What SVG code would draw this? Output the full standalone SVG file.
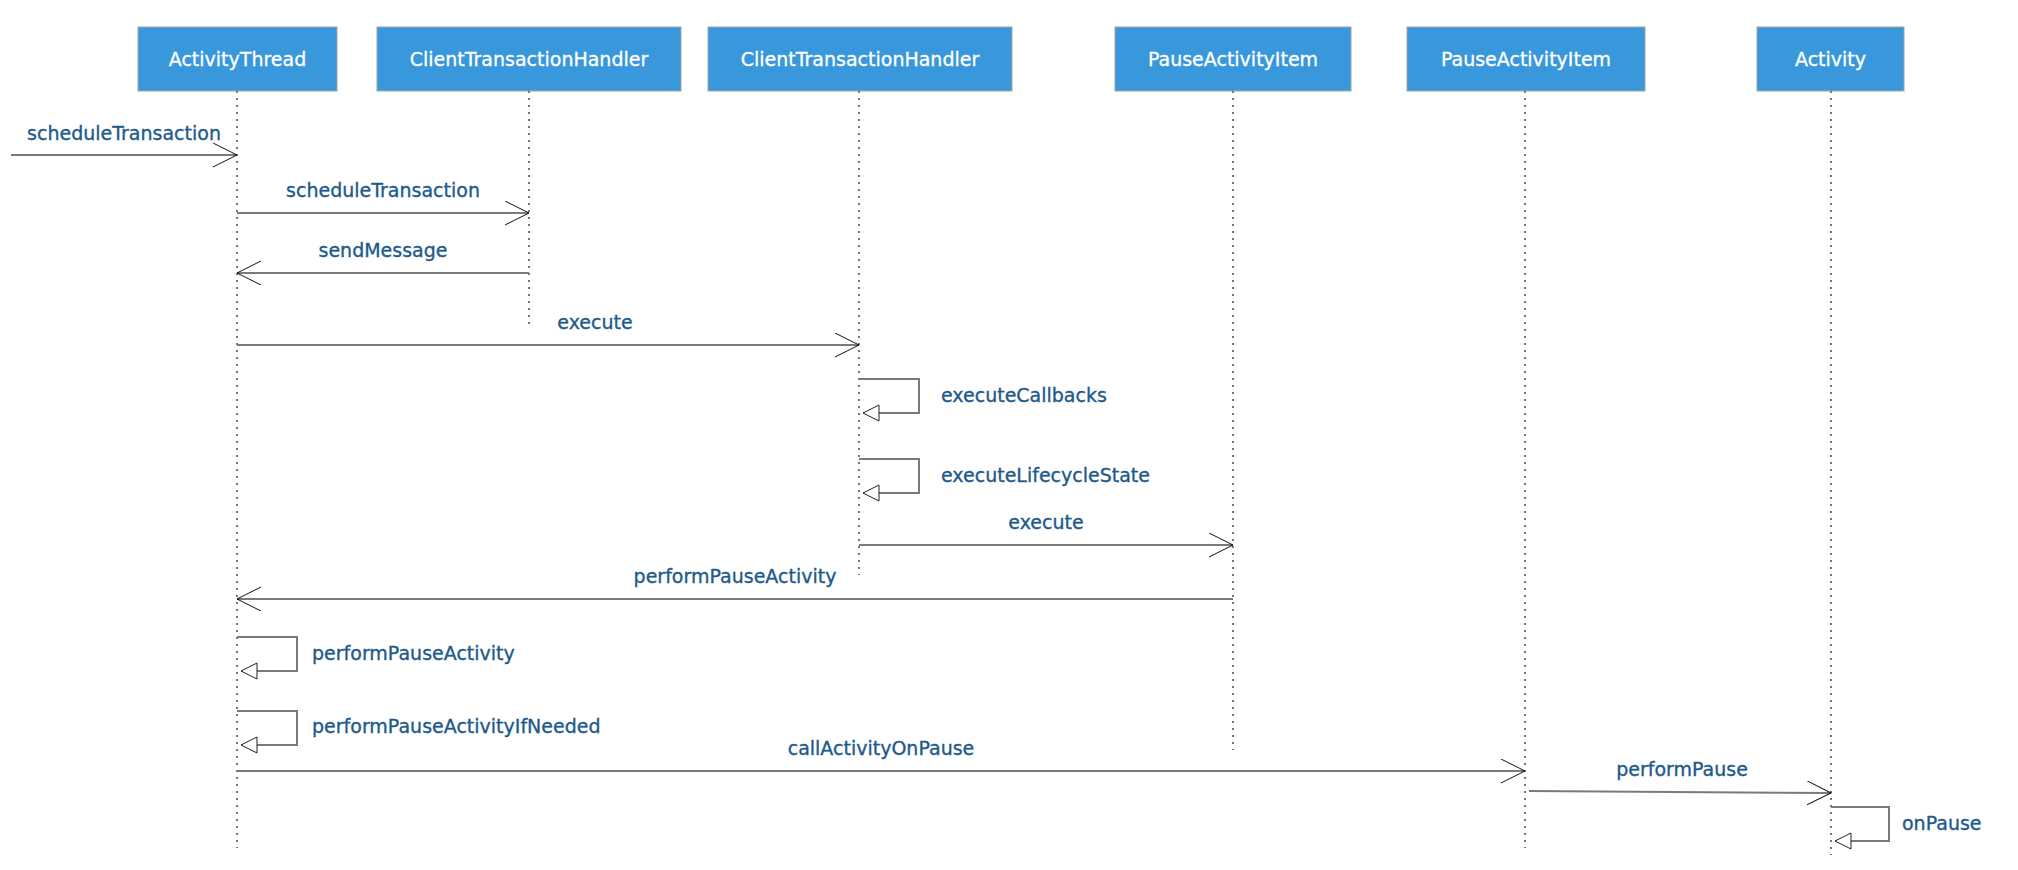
<svg xmlns="http://www.w3.org/2000/svg" width="2018" height="870" viewBox="0 0 2018 870">
<style>
.box{fill:#3898db;stroke:#a3a3a3;stroke-width:1}
.bt{font-family:"DejaVu Sans",sans-serif;font-size:19px;fill:#ffffff;text-anchor:middle;stroke:#ffffff;stroke-width:0.3}
.life{stroke:#777777;stroke-width:2;stroke-dasharray:2 5;fill:none}
.msg{stroke:#7a7a7a;stroke-width:2;fill:none}
.lbl{font-family:"DejaVu Sans",sans-serif;font-size:19px;fill:#1e5a8a;stroke:#1e5a8a;stroke-width:0.35}
.c{text-anchor:middle}
</style>
<defs>
<marker id="open" viewBox="0 0 26 26" refX="24" refY="12" markerWidth="26" markerHeight="26" markerUnits="userSpaceOnUse" orient="auto">
<path d="M0,0 L24,12 L0,24" fill="none" stroke="#111111" stroke-width="1"/>
</marker>
<marker id="tri" viewBox="-1 -1 18 18" refX="16" refY="8" markerWidth="18" markerHeight="18" markerUnits="userSpaceOnUse" orient="auto">
<path d="M0,0 L16,8 L0,16 Z" fill="#ffffff" stroke="#222222" stroke-width="1"/>
</marker>
</defs>
<rect width="2018" height="870" fill="#ffffff"/>

<g id="node-activitythread">
<rect class="box" x="138" y="27" width="199" height="64"/>
<text class="bt" x="237.5" y="66">ActivityThread</text>
<line class="life" x1="237" y1="91" x2="237" y2="848"/>
</g>
<g id="node-clienttransactionhandler-1">
<rect class="box" x="377" y="27" width="304" height="64"/>
<text class="bt" x="529" y="66">ClientTransactionHandler</text>
<line class="life" x1="529" y1="91" x2="529" y2="324"/>
</g>
<g id="node-clienttransactionhandler-2">
<rect class="box" x="708" y="27" width="304" height="64"/>
<text class="bt" x="860" y="66">ClientTransactionHandler</text>
<line class="life" x1="859" y1="91" x2="859" y2="575"/>
</g>
<g id="node-pauseactivityitem-1">
<rect class="box" x="1115" y="27" width="236" height="64"/>
<text class="bt" x="1233" y="66">PauseActivityItem</text>
<line class="life" x1="1233" y1="91" x2="1233" y2="750"/>
</g>
<g id="node-pauseactivityitem-2">
<rect class="box" x="1407" y="27" width="238" height="64"/>
<text class="bt" x="1526" y="66">PauseActivityItem</text>
<line class="life" x1="1525" y1="91" x2="1525" y2="848"/>
</g>
<g id="node-activity">
<rect class="box" x="1757" y="27" width="147" height="64"/>
<text class="bt" x="1830.5" y="66">Activity</text>
<line class="life" x1="1831" y1="91" x2="1831" y2="855"/>
</g>

<g id="connectors">
<line class="msg" x1="11" y1="155" x2="237" y2="155" marker-end="url(#open)"/>
<text class="lbl c" x="124" y="140">scheduleTransaction</text>

<line class="msg" x1="237" y1="213" x2="529" y2="213" marker-end="url(#open)"/>
<text class="lbl c" x="383" y="197">scheduleTransaction</text>

<line class="msg" x1="529" y1="273" x2="237" y2="273" marker-end="url(#open)"/>
<text class="lbl c" x="383" y="257">sendMessage</text>

<line class="msg" x1="237" y1="345" x2="859" y2="345" marker-end="url(#open)"/>
<text class="lbl c" x="595" y="329">execute</text>

<path class="msg" d="M859,379 H919 V413 H863" marker-end="url(#tri)"/>
<text class="lbl" x="941" y="402">executeCallbacks</text>

<path class="msg" d="M859,459 H919 V493 H863" marker-end="url(#tri)"/>
<text class="lbl" x="941" y="482">executeLifecycleState</text>

<line class="msg" x1="859" y1="545" x2="1233" y2="545" marker-end="url(#open)"/>
<text class="lbl c" x="1046" y="529">execute</text>

<line class="msg" x1="1233" y1="599" x2="237" y2="599" marker-end="url(#open)"/>
<text class="lbl c" x="735" y="583">performPauseActivity</text>

<path class="msg" d="M237,637 H297 V671 H241" marker-end="url(#tri)"/>
<text class="lbl" x="312" y="660">performPauseActivity</text>

<path class="msg" d="M237,711 H297 V745 H241" marker-end="url(#tri)"/>
<text class="lbl" x="312" y="733">performPauseActivityIfNeeded</text>

<line class="msg" x1="237" y1="771" x2="1525" y2="771" marker-end="url(#open)"/>
<text class="lbl c" x="881" y="755">callActivityOnPause</text>

<line class="msg" x1="1529" y1="791" x2="1831" y2="793" marker-end="url(#open)"/>
<text class="lbl c" x="1682" y="776">performPause</text>

<path class="msg" d="M1831,807 H1889 V841 H1835" marker-end="url(#tri)"/>
<text class="lbl" x="1902" y="830">onPause</text>
</g>
</svg>
